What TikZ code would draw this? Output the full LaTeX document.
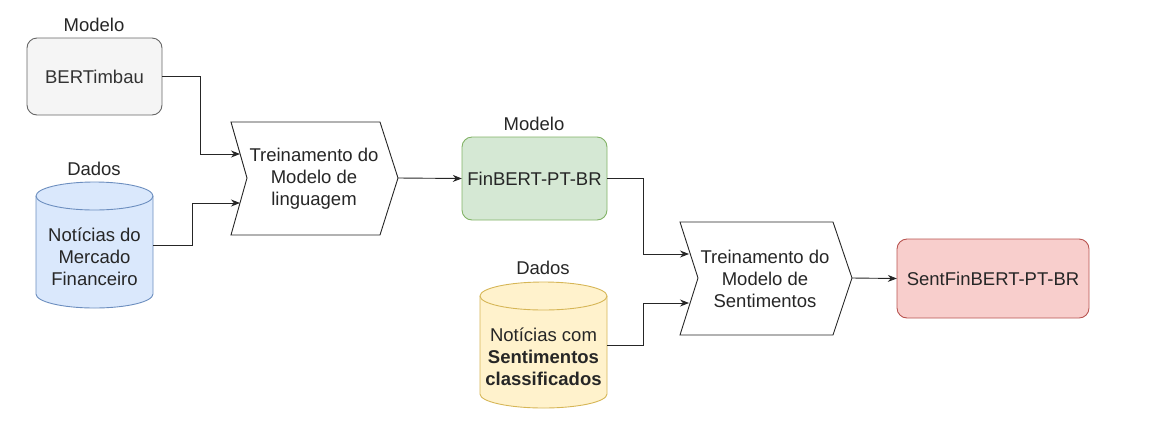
\documentclass[tikz,border=0pt]{standalone}
\usepackage{fontspec}
\setmainfont{Liberation Sans}
\usetikzlibrary{arrows.meta}
\definecolor{grayfill}{HTML}{F5F5F5}
\definecolor{graystroke}{HTML}{666666}
\definecolor{graytext}{HTML}{333333}
\definecolor{bluefill}{HTML}{DAE8FC}
\definecolor{bluestroke}{HTML}{6C8EBF}
\definecolor{greenfill}{HTML}{D5E8D4}
\definecolor{greenstroke}{HTML}{82B366}
\definecolor{yellowfill}{HTML}{FFF2CC}
\definecolor{yellowstroke}{HTML}{D6B656}
\definecolor{redfill}{HTML}{F8CECC}
\definecolor{redstroke}{HTML}{B85450}
\tikzset{
  txt/.style={font=\fontsize{18.5}{22}\selectfont, align=center, text=black!85},
  roundbox/.style={draw, rounded corners=10pt, line width=0.9pt, inner sep=0pt},
  conn/.style={draw=black!85, line width=0.9pt, -{Stealth[length=9pt,width=7pt]}},
  stepshape/.style={draw=black!85, line width=0.9pt, fill=white},
}
\begin{document}
\begin{tikzpicture}[x=1pt,y=-1pt]
\useasboundingbox (0,0) rectangle (1158,424);

% BERTimbau
\draw[roundbox, draw=graystroke, fill=grayfill] (27,38) rectangle (162,115);
\node[txt] (lblm1) at (94,25) {Modelo};
\node[txt, text=graytext, minimum width=135pt, minimum height=77pt] (bert) at (94.5,76.5) {BERTimbau};

% Blue cylinder
\node[txt] (lbld1) at (94,169) {Dados};
\draw[draw=bluestroke, fill=bluefill, line width=0.9pt]
  (36,196) -- (36,294) arc[start angle=180, end angle=360, x radius=58.5pt, y radius=14pt]
  -- (153,196) arc[start angle=0, end angle=180, x radius=58.5pt, y radius=14pt] -- cycle;
\draw[draw=bluestroke, line width=0.9pt]
  (36,196) arc[start angle=180, end angle=360, x radius=58.5pt, y radius=14pt];
\node[txt, minimum width=117pt, minimum height=100pt] (news1) at (94.5,245) {};
\node[txt] (news1t) at (94.5,257) {Notícias do\\Mercado\\Financeiro};

% Chevron 1
\draw[stepshape] (231,122) -- (380,122) -- (398,178) -- (380,235) -- (231,235) -- (247,178) -- cycle;
\node[txt] (train1) at (314,179) {Treinamento do\\Modelo de\\linguagem};
\coordinate (t1in1) at (240,154);
\coordinate (t1in2) at (240,203);
\coordinate (t1out) at (398,178);

% FinBERT
\draw[roundbox, draw=greenstroke, fill=greenfill] (462,137) rectangle (607,220);
\node[txt] (lblm2) at (534,124) {Modelo};
\node[txt, minimum width=145pt, minimum height=83pt, inner sep=0pt] (fin) at (534.5,178.5) {FinBERT-PT-BR};

% Yellow cylinder
\node[txt] (lbld2) at (543,268) {Dados};
\draw[draw=yellowstroke, fill=yellowfill, line width=0.9pt]
  (480,296) -- (480,394) arc[start angle=180, end angle=360, x radius=63.5pt, y radius=14pt]
  -- (607,296) arc[start angle=0, end angle=180, x radius=63.5pt, y radius=14pt] -- cycle;
\draw[draw=yellowstroke, line width=0.9pt]
  (480,296) arc[start angle=180, end angle=360, x radius=63.5pt, y radius=14pt];
\node[txt, minimum width=127pt, minimum height=100pt] (news2) at (543.5,345) {};
\node[txt] (news2t) at (543.5,357) {Notícias com\\\textbf{Sentimentos}\\\textbf{classificados}};

% Chevron 2
\draw[stepshape] (680,222) -- (833,222) -- (852,278) -- (833,335) -- (680,335) -- (698,278) -- cycle;
\node[txt] (train2) at (765,279) {Treinamento do\\Modelo de\\Sentimentos};
\coordinate (t2in1) at (689,254);
\coordinate (t2in2) at (689,303);
\coordinate (t2out) at (852,278);

% SentFinBERT
\draw[roundbox, draw=redstroke, fill=redfill] (897,239) rectangle (1089,318);
\node[txt, minimum width=192pt, minimum height=79pt, inner sep=0pt] (sent) at (993,278.5) {SentFinBERT-PT-BR};

% Connectors
\draw[conn] (bert.east) -- (200,76.5) |- (t1in1);
\draw[conn] (news1.east) -- (192,245) |- (t1in2);
\draw[conn] (t1out) -- (fin.west);
\draw[conn] (fin.east) -- (643,178.5) |- (t2in1);
\draw[conn] (news2.east) -- (643,345) |- (t2in2);
\draw[conn] (t2out) -- (sent.west);
\end{tikzpicture}
\end{document}
